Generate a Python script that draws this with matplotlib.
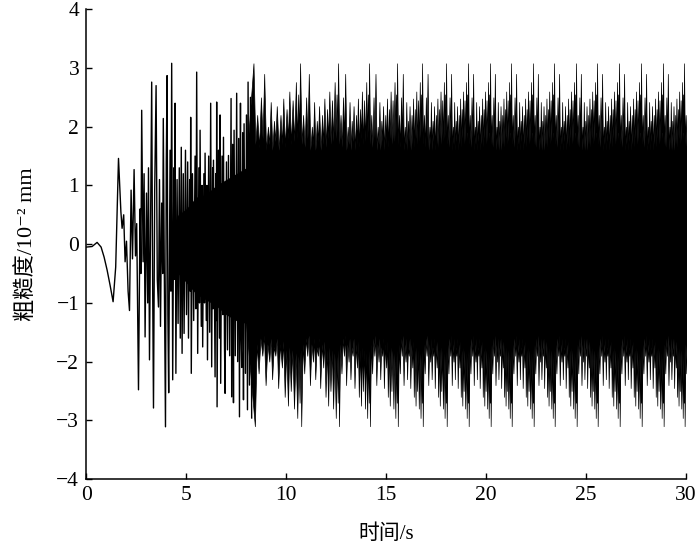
import numpy as np
import matplotlib
matplotlib.use("Agg")
import matplotlib.pyplot as plt

plt.rcParams["font.family"] = ["Liberation Serif", "Noto Sans CJK SC", "DejaVu Sans"]
plt.rcParams["font.size"] = 15

# start-up transient and growing part, extrema (s, 10^-2 mm)
early_t = [0.00, 0.30, 0.55, 0.75, 0.90, 1.05, 1.20, 1.35, 1.48, 1.62, 1.74, 1.80,
           1.88, 1.95, 2.02, 2.10, 2.17, 2.25, 2.32, 2.40, 2.47, 2.53, 2.62, 2.70,
           2.74, 2.78, 2.85, 2.90, 2.95, 3.02, 3.08, 3.12, 3.17, 3.23, 3.28, 3.33,
           3.37, 3.43, 3.50, 3.56, 3.62, 3.67, 3.72, 3.78, 3.83, 3.86, 3.92, 3.97,
           4.01, 4.05, 4.09, 4.13, 4.20, 4.24, 4.28, 4.33, 4.39, 4.42, 4.45, 4.49,
           4.55, 4.60, 4.66, 4.71, 4.76, 4.80, 4.86, 4.90, 4.97, 5.02, 5.08, 5.12,
           5.18, 5.21, 5.23, 5.26, 5.32, 5.38, 5.45, 5.49, 5.53, 5.58, 5.64, 5.67,
           5.70, 5.76, 5.80, 5.83, 5.89, 5.92, 5.95, 6.01, 6.04, 6.07, 6.13, 6.18,
           6.23, 6.28, 6.33, 6.35, 6.37, 6.45, 6.49, 6.51, 6.53, 6.55, 6.62, 6.67,
           6.70, 6.73, 6.80, 6.84, 6.87, 6.92, 6.95, 7.02, 7.07, 7.12, 7.18, 7.25,
           7.28, 7.33, 7.37, 7.40, 7.46, 7.53, 7.58, 7.63, 7.67, 7.72, 7.75, 7.78,
           7.83, 7.87, 7.90, 7.97, 8.02, 8.07, 8.10, 8.17, 8.22, 8.28]
early_y = [-0.05, -0.04, 0.03, -0.05, -0.22, -0.44, -0.70, -0.98, -0.39, 1.46, 0.55, 0.27,
           0.50, -0.30, 0.05, -0.80, -1.13, 0.92, -0.25, 1.27, -0.20, 0.35, -2.48, 0.60,
           -0.50, 2.28, -0.30, 1.20, -1.58, 0.87, -1.00, 1.30, -1.97, 0.60, 2.76, -0.80,
           -2.79, 0.90, 2.70, -0.60, -1.07, 1.10, -1.40, 0.70, -0.50, 2.14, -0.90, -3.11,
           1.40, 2.87, -1.20, -2.53, 1.60, -0.80, 3.08, -2.31, 1.30, -0.60, 2.40, -2.20,
           1.10, -1.35, 1.30, -1.60, 1.65, -1.86, 1.20, -1.52, 1.60, -1.20, 1.40, -1.60,
           1.10, -0.80, 2.16, -2.20, 1.20, -1.30, 1.50, -1.10, 2.93, -1.86, 1.30, -1.00,
           1.94, -1.40, 1.00, -1.75, 1.20, -1.00, 1.55, -1.30, 1.00, -1.97, 1.50, -1.50,
           2.40, -2.09, 1.30, -1.10, 1.43, -2.26, 1.20, -1.30, 2.42, -2.77, 1.60, -1.60,
           2.20, -2.37, 1.50, -1.20, 1.82, -1.70, -2.54, 1.40, -1.80, 1.51, -1.90, 2.48,
           -2.60, 1.70, -2.70, 1.94, -1.90, 2.57, -2.00, 1.80, -2.94, 2.40, -1.60, -2.10,
           1.90, -2.65, 2.05, -2.20, 2.20, -2.82, 2.76, -2.40, 2.50, -2.96]

# times of the tallest spikes in the steady part (s)
peak_times = [8.37, 10.70, 12.60, 14.15, 15.55, 16.80, 18.00, 19.10, 20.20, 21.25,
              22.35, 23.40, 24.50, 25.55, 26.65, 27.75, 28.85, 29.90]

# spikes inside one beat period: position (fraction of period), tip, and the
# level the trace falls back to before the next spike
period_frac = [0.00, 0.08, 0.16, 0.23, 0.31, 0.37, 0.44, 0.50, 0.58, 0.64, 0.71,
               0.77, 0.84, 0.91, 0.96]
period_up = [3.08, 2.20, 2.50, 2.90, 2.00, 2.42, 2.10, 2.35, 2.20, 2.48, 2.30,
             2.60, 2.45, 2.76, 2.55]
period_up_valley = [1.70, 1.65, 1.80, 1.60, 1.70, 1.60, 1.75, 1.60, 1.70, 1.65, 1.80,
                    1.70, 1.75, 1.80, 1.90]
period_down = [-3.10, -2.20, -1.90, -2.40, -2.00, -2.30, -1.90, -2.45, -2.10, -2.60,
               -2.75, -2.50, -2.80, -2.96, -2.70]
period_down_valley = [-1.70, -1.60, -1.55, -1.70, -1.60, -1.75, -1.60, -1.70, -1.65,
                      -1.80, -1.75, -1.80, -1.85, -1.90, -1.80]

# solid black core of the oscillation while it builds up
band_t = [4.2, 4.6, 5.0, 5.5, 6.0, 6.5, 7.0, 7.5, 8.0, 8.5]
band_top = [0.20, 0.50, 0.60, 0.80, 0.85, 1.00, 1.10, 1.20, 1.30, 1.45]
band_bot = [-0.20, -0.50, -0.65, -0.85, -0.95, -1.05, -1.20, -1.30, -1.35, -1.40]


def build_envelopes():
    anchors = peak_times + [peak_times[-1] + (peak_times[-1] - peak_times[-2])]
    fr = period_frac + [1.0]
    # start from the edge of the growing core so the first spike is a needle
    tu, yu = [band_t[-2]], [band_top[-2]]
    td, yd = [band_t[-2]], [band_bot[-2]]
    for a, b in zip(anchors[:-1], anchors[1:]):
        p = b - a
        for i in range(len(period_frac)):
            t0 = a + fr[i] * p
            tm = a + 0.5 * (fr[i] + fr[i + 1]) * p
            tu += [t0, tm]
            yu += [period_up[i], period_up_valley[i]]
            shift = 0.03 * p
            td += [t0 + shift, tm + shift]
            yd += [period_down[i], period_down_valley[i]]
    return np.array(tu), np.array(yu), np.array(td), np.array(yd)


tu, yu, td, yd = build_envelopes()

fig = plt.figure(figsize=(7.0, 5.45), dpi=100)
ax = fig.add_axes([0.123, 0.121, 0.857, 0.862])

ax.fill_between(band_t, band_bot, band_top, color="black", lw=0)
ax.plot(early_t, early_y, color="black", lw=1.0)
# the two halves overlap around zero so no seam shows
ax.fill_between(tu, -0.6, yu, facecolor="black", edgecolor="black", lw=0.5)
ax.fill_between(td, yd, 0.6, facecolor="black", edgecolor="black", lw=0.5)

ax.set_xlim(0, 30)
ax.set_ylim(-4, 4)
ax.set_xticks(range(0, 31, 5))
ax.set_yticks(range(-4, 5))
ax.tick_params(direction="in", length=4, width=1.0, labelsize=15.5, pad=5)
for s in ["top", "right"]:
    ax.spines[s].set_visible(False)
for s in ["left", "bottom"]:
    ax.spines[s].set_linewidth(1.1)

ax.set_xlabel("时间/s", fontsize=15, labelpad=14)
ax.set_ylabel("粗糙度/10⁻² mm", fontsize=16, labelpad=14)

fig.savefig("out.png", dpi=100)
